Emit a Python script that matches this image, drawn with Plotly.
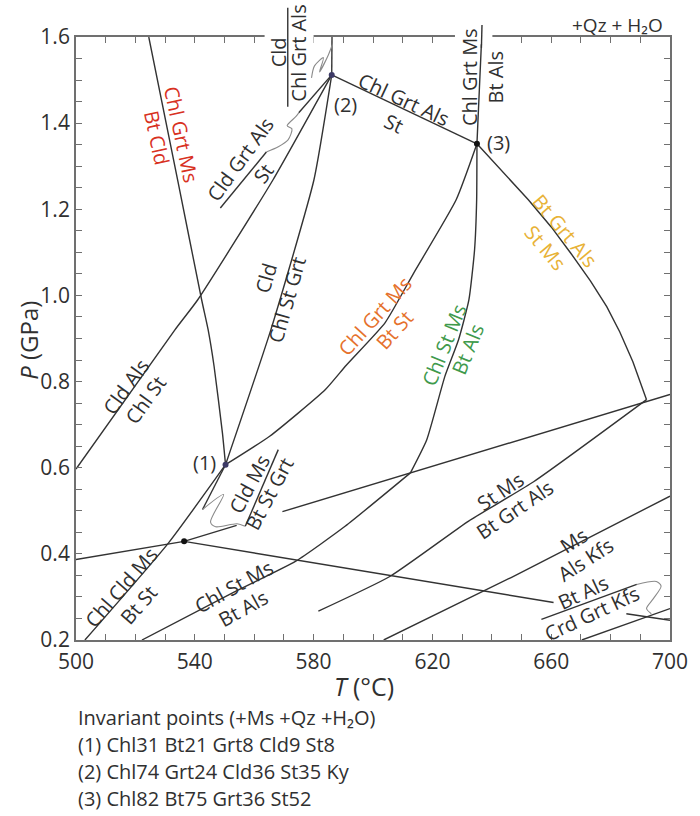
import plotly.graph_objects as go

# ---------------------------------------------------------------
# Petrogenetic grid, T in °C, P in GPa
# ---------------------------------------------------------------

# invariant points
inv_T = [550.35, 586.1, 635.0]
inv_P = [0.607, 1.512, 1.352]
inv_tags = ["(1)", "(2)", "(3)"]
inv_tag_T = [543.1, 590.7, 642.3]
inv_tag_P = [0.612, 1.443, 1.354]

# unlabelled low-pressure node
node_T = [536.4]
node_P = [0.429]

# univariant reaction curves
chl_grt_ms__bt_cld_T = [524.5, 534.4, 542.3, 544.5, 546.5, 549.3, 550.35]
chl_grt_ms__bt_cld_P = [1.600, 1.262, 0.990, 0.920, 0.835, 0.681, 0.607]

cld_als__chl_st_T = [500.0, 533.3, 541.0, 566.3, 586.1]
cld_als__chl_st_P = [0.597, 0.920, 0.990, 1.268, 1.512]

cld__chl_st_grt_T = [550.35, 565.6, 580.1, 586.1]
cld__chl_st_grt_P = [0.607, 0.920, 1.268, 1.512]

chl_grt_ms__bt_st_T = [550.35, 565.2, 583.9, 591.0, 604.1, 613.7, 628.0, 635.0]
chl_grt_ms__bt_st_P = [0.607, 0.673, 0.781, 0.838, 0.937, 1.052, 1.222, 1.352]

chl_cld_ms__bt_st_T = [550.35, 531.1, 503.0]
chl_cld_ms__bt_st_P = [0.607, 0.425, 0.200]

cld_ms__bt_st_grt_T = [550.35, 542.6]
cld_ms__bt_st_grt_P = [0.607, 0.503]

chl_st_ms__bt_als_T = [635.0, 634.9, 634.2, 632.3, 628.8, 624.2, 618.1, 612.6,
                       590.6, 574.0, 553.2, 522.2]
chl_st_ms__bt_als_P = [1.352, 1.222, 1.106, 0.990, 0.897, 0.812, 0.665, 0.588,
                       0.464, 0.383, 0.311, 0.200]

bt_grt_als__st_ms_T = [635.0, 643.5, 652.3, 660.0, 666.6, 673.2, 678.7, 683.1, 687.5, 692.1]
bt_grt_als__st_ms_P = [1.352, 1.289, 1.222, 1.159, 1.098, 1.034, 0.974, 0.915, 0.846, 0.758]

chl_grt_ms__bt_als_T = [635.0, 635.8, 636.6]
chl_grt_ms__bt_als_P = [1.352, 1.477, 1.600]

chl_grt_als__st_T = [586.1, 635.0]
chl_grt_als__st_P = [1.512, 1.352]

cld__chl_grt_als_T = [586.1, 586.2]
cld__chl_grt_als_P = [1.512, 1.600]

cld_grt_als__st_T = [586.1, 575.0]
cld_grt_als__st_P = [1.512, 1.424]

# long low-P line through the node (gap left for its label)
node_line_T = [500.0, 536.4, 554.1, None, 569.5, 612.6, 700.0]
node_line_P = [0.387, 0.429, 0.466, None, 0.498, 0.588, 0.770]

node_branch_T = [536.4, 660.8]
node_branch_P = [0.429, 0.287]

st_ms__bt_grt_als_T = [581.6, 605.8, 632.2, 654.2, 692.1]
st_ms__bt_grt_als_P = [0.267, 0.348, 0.476, 0.568, 0.758]

ms__als_kfs_T = [603.6, 646.5, 700.0]
ms__als_kfs_P = [0.200, 0.345, 0.534]

kfs_a_T = [670.3, 700.0]
kfs_a_P = [0.200, 0.273]

bt_als__crd_grt_kfs_T = [685.3, 700.0]
bt_als__crd_grt_kfs_P = [0.261, 0.246]

# leader squiggles from offset labels
lead1_T = [542.6, 549.7, 545.3, 547.0, 554.2, 556.9]
lead1_P = [0.503, 0.538, 0.474, 0.463, 0.470, 0.464]
lead2_T = [564.1, 568.1, 571.4, 572.7, 571.1, 574.0, 575.0]
lead2_P = [1.333, 1.345, 1.361, 1.387, 1.394, 1.415, 1.424]
lead3_T = [579.3, 580.3, 583.3, 582.0, 585.0, 586.3]
lead3_P = [1.505, 1.533, 1.552, 1.519, 1.559, 1.582]
lead4_T = [688.8, 695.4, 697.0, 694.4, 692.1, 693.7]
lead4_P = [0.329, 0.336, 0.325, 0.296, 0.273, 0.261]

# fraction bars of offset labels
bar_T = [[548.6, 564.1], [557.0, 568.1], [656.7, 688.8]]
bar_P = [[1.203, 1.333], [0.464, 0.642], [0.248, 0.329]]

# axis ticks
x_ticks = [500, 540, 580, 620, 660, 700]
y_ticks = [0.2, 0.4, 0.6, 0.8, 1.0, 1.2, 1.4, 1.6]

INK = "#303030"
LINE = "#333333"
GREY = "#8a8a8a"
FRAME = "#707070"
RED = "#d8311f"
ORANGE = "#e5712c"
GREEN = "#3f9a4c"
YELLOW = "#e8b236"
FONT = "Open Sans"
LBL = 20

fig = go.Figure()

curves = [
    (chl_grt_ms__bt_cld_T, chl_grt_ms__bt_cld_P, True),
    (cld_als__chl_st_T, cld_als__chl_st_P, True),
    (cld__chl_st_grt_T, cld__chl_st_grt_P, True),
    (chl_grt_ms__bt_st_T, chl_grt_ms__bt_st_P, True),
    (chl_cld_ms__bt_st_T, chl_cld_ms__bt_st_P, True),
    (cld_ms__bt_st_grt_T, cld_ms__bt_st_grt_P, False),
    (chl_st_ms__bt_als_T[:8], chl_st_ms__bt_als_P[:8], True),
    (chl_st_ms__bt_als_T[7:], chl_st_ms__bt_als_P[7:], True),
    (bt_grt_als__st_ms_T, bt_grt_als__st_ms_P, False),
    (chl_grt_ms__bt_als_T, chl_grt_ms__bt_als_P, True),
    (chl_grt_als__st_T, chl_grt_als__st_P, False),
    (cld__chl_grt_als_T, cld__chl_grt_als_P, False),
    (cld_grt_als__st_T, cld_grt_als__st_P, False),
    (node_line_T, node_line_P, False),
    (node_branch_T, node_branch_P, False),
    (st_ms__bt_grt_als_T, st_ms__bt_grt_als_P, True),
    (ms__als_kfs_T, ms__als_kfs_P, True),
    (kfs_a_T, kfs_a_P, False),
    (bt_als__crd_grt_kfs_T, bt_als__crd_grt_kfs_P, False),
]
for t, p, smooth in curves:
    fig.add_trace(go.Scatter(
        x=t, y=p, mode="lines", hoverinfo="skip", showlegend=False,
        line=dict(color=LINE, width=1.4,
                  shape="spline" if smooth else "linear",
                  smoothing=0.5 if smooth else 0),
    ))

for t, p in [(lead1_T, lead1_P), (lead2_T, lead2_P), (lead3_T, lead3_P), (lead4_T, lead4_P)]:
    fig.add_trace(go.Scatter(
        x=t, y=p, mode="lines", hoverinfo="skip", showlegend=False,
        line=dict(color=GREY, width=1.1, shape="spline", smoothing=0.8),
    ))

for t, p in zip(bar_T, bar_P):
    fig.add_trace(go.Scatter(
        x=t, y=p, mode="lines", hoverinfo="skip", showlegend=False,
        line=dict(color=LINE, width=1.4),
    ))

fig.add_trace(go.Scatter(
    x=inv_T, y=inv_P, mode="markers", hoverinfo="skip", showlegend=False,
    marker=dict(size=6, color=["#3d3a66", "#3d3a66", "#111111"]),
    cliponaxis=False,
))
fig.add_trace(go.Scatter(
    x=node_T, y=node_P, mode="markers", hoverinfo="skip", showlegend=False,
    marker=dict(size=6, color="#111111"),
))


def px(t):
    return (t - 500.0) / 200.0


def py(p):
    return (p - 0.2) / 1.4


shapes = [
    # breaks in the top frame where labels sit
    dict(type="rect", xref="x", yref="paper", x0=563.5, x1=580.0, y0=0.988, y1=1.01,
         fillcolor="white", line=dict(width=0), layer="above"),
    dict(type="rect", xref="x", yref="paper", x0=627.6, x1=640.2, y0=0.988, y1=1.01,
         fillcolor="white", line=dict(width=0), layer="above"),
    # bars of the labels above the frame
    dict(type="line", xref="paper", yref="paper", x0=px(571.3), x1=px(571.3),
         y0=py(1.438), y1=py(1.668), line=dict(color=LINE, width=1.4), layer="above"),
    dict(type="line", xref="paper", yref="paper", x0=px(636.5), x1=px(636.7),
         y0=py(1.575), y1=py(1.628), line=dict(color=LINE, width=1.4), layer="above"),
]

annotations = []
labels = [
    ("Chl Grt Ms", 535.4, 1.373, 78, RED),
    ("Bt Cld", 527.1, 1.366, 78, RED),
    ("Cld Grt Als", 555.3, 1.315, -54, INK),
    ("St", 563.0, 1.284, -54, INK),
    ("Cld", 568.1, 1.565, -90, INK),
    ("Chl Grt Als", 575.0, 1.563, -90, INK),
    ("Chl Grt Als", 610.4, 1.454, 25, INK),
    ("St", 607.1, 1.400, 25, INK),
    ("Chl Grt Ms", 632.5, 1.506, -90, INK),
    ("Bt Als", 641.2, 1.507, -90, INK),
    ("Cld", 564.1, 1.041, -74, INK),
    ("Chl St Grt", 571.1, 0.990, -74, INK),
    ("Chl Grt Ms", 600.8, 0.953, -48, ORANGE),
    ("Bt St", 607.4, 0.920, -48, ORANGE),
    ("Chl St Ms", 624.0, 0.886, -68, GREEN),
    ("Bt Als", 631.9, 0.874, -68, GREEN),
    ("Bt Grt Als", 664.5, 1.150, 50, YELLOW),
    ("St Ms", 658.0, 1.111, 50, YELLOW),
    ("Cld Als", 516.9, 0.788, -54, INK),
    ("Chl St", 523.5, 0.758, -54, INK),
    ("Chl Cld Ms", 515.1, 0.323, -49, INK),
    ("Bt St", 521.2, 0.282, -49, INK),
    ("Cld Ms", 558.5, 0.563, -62, INK),
    ("Bt St Grt", 565.1, 0.540, -62, INK),
    ("Chl St Ms", 553.2, 0.324, -29, INK),
    ("Bt Als", 556.2, 0.273, -29, INK),
    ("St Ms", 642.8, 0.545, -34, INK),
    ("Bt Grt Als", 647.8, 0.503, -34, INK),
    ("Ms", 667.6, 0.431, -33, INK),
    ("Als Kfs", 671.6, 0.387, -33, INK),
    ("Bt Als", 670.6, 0.310, -25, INK),
    ("Crd Grt Kfs", 673.6, 0.262, -25, INK),
]
for text, t, p, ang, col in labels:
    annotations.append(dict(
        x=t, y=p, xref="x", yref="y", text=text, textangle=ang, showarrow=False,
        xanchor="center", yanchor="middle", font=dict(family=FONT, size=LBL, color=col),
    ))

for tag, t, p in zip(inv_tags, inv_tag_T, inv_tag_P):
    annotations.append(dict(
        x=t, y=p, xref="x", yref="y", text=tag, showarrow=False,
        xanchor="center", yanchor="middle", font=dict(family=FONT, size=LBL, color=INK),
    ))

annotations.append(dict(
    x=0.992, y=1.02, xref="paper", yref="paper", text="+Qz + H₂O", showarrow=False,
    xanchor="right", yanchor="middle", font=dict(family=FONT, size=19, color=INK),
))

# axis titles
annotations.append(dict(
    x=0.485, y=-0.077, xref="paper", yref="paper", text="<i>T</i> (°C)", showarrow=False,
    xanchor="center", yanchor="middle", font=dict(family=FONT, size=25, color=INK),
))
annotations.append(dict(
    x=-0.080, y=0.497, xref="paper", yref="paper", text="<i>P</i> (GPa)", showarrow=False,
    textangle=-90, xanchor="center", yanchor="middle",
    font=dict(family=FONT, size=24, color=INK),
))

notes = [
    "Invariant points (+Ms +Qz +H₂O)",
    "(1) Chl31 Bt21 Grt8 Cld9 St8",
    "(2) Chl74 Grt24 Cld36 St35 Ky",
    "(3) Chl82 Bt75 Grt36 St52",
]
for i, line in enumerate(notes):
    annotations.append(dict(
        x=0.0, y=-0.1277 - i * 0.0448, xref="paper", yref="paper", text=line,
        showarrow=False, xanchor="left", yanchor="middle",
        font=dict(family=FONT, size=20, color=INK),
    ))

axis_common = dict(
    showgrid=False, zeroline=False, showline=True, linecolor=FRAME, linewidth=1.8,
    mirror="ticks", ticks="inside", ticklen=6, tickwidth=1.4, tickcolor=FRAME,
    tickfont=dict(family=FONT, size=21, color=INK), ticklabeloverflow="allow",
)

fig.update_layout(
    width=700, height=816,
    margin=dict(l=76, r=18, t=37, b=176),
    paper_bgcolor="white", plot_bgcolor="white",
    xaxis=dict(range=[500, 700], tickvals=x_ticks, ticklabelstandoff=2,
               minor=dict(dtick=10, ticks="inside", ticklen=6, tickcolor=FRAME),
               **axis_common),
    yaxis=dict(range=[0.2, 1.6], tickvals=y_ticks, tickformat=".1f",
               minor=dict(dtick=0.05, ticks="inside", ticklen=6, tickcolor=FRAME),
               **axis_common),
    shapes=shapes,
    annotations=annotations,
)

fig.write_html("out.html")
